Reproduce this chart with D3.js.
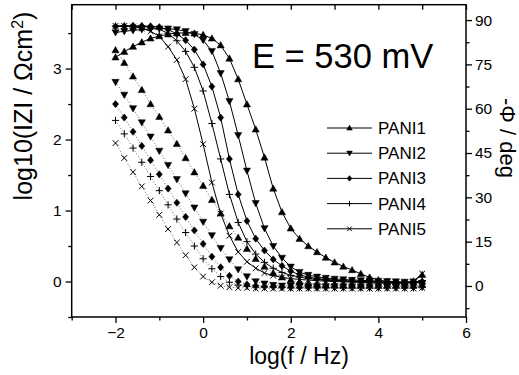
<!DOCTYPE html>
<html>
<head>
<meta charset="utf-8">
<script src="https://cdn.jsdelivr.net/npm/d3@7"></script>
<style>
  body { margin: 0; background: #fff; }
  svg { display: block; font-family: Arial, "Liberation Sans", sans-serif; }
  .axis path, .axis line { stroke: #000; stroke-width: 1.3; }
  .axis text { font-size: 15.5px; fill: #000; }
</style>
</head>
<body>
<div id="chart"></div>
<script>
// log(f / Hz) grid of the measurement
var logF = [-2, -1.8, -1.6, -1.4, -1.2, -1, -0.8, -0.6, -0.4, -0.2, 0, 0.2, 0.4, 0.6, 0.8, 1, 1.2, 1.4, 1.6, 1.8,
            2, 2.2, 2.4, 2.6, 2.8, 3, 3.2, 3.4, 3.6, 3.8, 4, 4.2, 4.4, 4.6, 4.8, 5];

var seriesNames = ["PANI1", "PANI2", "PANI3", "PANI4", "PANI5"];
var symbols = ["triUp", "triDown", "diamond", "plus", "cross"];

// -phase / deg (solid, right axis)
var phase1 = [77.4, 79.3, 81.0, 82.5, 83.8, 84.6, 85.2, 85.6, 85.7, 85.5, 85.0, 83.8, 81.5, 77.0, 70.0, 61.5, 53.0, 43.5, 33.0, 25.0,
              19.5, 16.0, 13.5, 11.5, 9.6, 8.0, 6.6, 5.4, 4.1, 2.9, 2.0, 1.5, 1.2, 1.1, 1.6, 3.8];
var phase2 = [85.8, 86.2, 86.5, 86.8, 87.0, 87.1, 87.1, 86.8, 86.2, 85.2, 83.2, 79.5, 72.0, 62.5, 51.0, 39.0, 28.0, 19.5, 13.5, 9.5,
              6.5, 4.7, 3.7, 3.1, 2.7, 2.4, 2.2, 2.0, 1.9, 1.8, 1.7, 1.6, 1.5, 1.4, 1.4, 1.0];
var phase3 = [87.8, 87.9, 88.0, 88.0, 87.9, 87.6, 86.8, 85.3, 83.2, 80.0, 75.0, 67.5, 57.0, 43.0, 31.0, 22.0, 16.0, 12.0, 9.0, 6.8,
              5.0, 3.8, 3.0, 2.5, 2.2, 2.0, 1.8, 1.6, 1.5, 1.4, 1.3, 1.2, 1.1, 1.0, 1.2, 1.5];
var phase4 = [88.0, 88.0, 88.0, 87.9, 87.6, 86.9, 85.5, 83.0, 79.4, 74.0, 66.0, 55.0, 43.0, 31.0, 21.5, 15.0, 10.8, 8.0, 6.0, 4.6,
              3.6, 3.0, 2.5, 2.2, 2.0, 1.8, 1.7, 1.6, 1.5, 1.4, 1.3, 1.2, 1.1, 1.0, 1.3, 1.8];
var phase5 = [88.0, 88.0, 87.8, 87.2, 86.2, 84.5, 81.0, 76.5, 70.0, 60.0, 48.0, 35.0, 24.5, 17.0, 11.5, 8.2, 6.0, 4.4, 3.5, 2.9,
              2.5, 2.2, 2.0, 1.8, 1.6, 1.5, 1.4, 1.3, 1.2, 1.1, 1.0, 1.0, 0.9, 0.9, 1.6, 4.2];

// log10|Z| (dotted, left axis)
var logZ1 = [3.26, 3.08, 2.89, 2.70, 2.50, 2.32, 2.13, 1.94, 1.74, 1.54, 1.35, 1.15, 0.96, 0.78, 0.62, 0.46, 0.32, 0.21, 0.12, 0.06,
             0.02, -0.01, -0.03, -0.04, -0.05, -0.05, -0.06, -0.06, -0.06, -0.06, -0.06, -0.06, -0.06, -0.06, -0.06, -0.05];
var logZ2 = [2.81, 2.63, 2.44, 2.24, 2.04, 1.84, 1.64, 1.44, 1.24, 1.04, 0.84, 0.65, 0.47, 0.31, 0.17, 0.07, 0.00, -0.03, -0.05, -0.06,
             -0.06, -0.06, -0.07, -0.07, -0.07, -0.07, -0.07, -0.07, -0.07, -0.07, -0.07, -0.07, -0.07, -0.07, -0.07, -0.06];
var logZ3 = [2.50, 2.31, 2.11, 1.91, 1.71, 1.51, 1.31, 1.11, 0.91, 0.72, 0.53, 0.35, 0.20, 0.08, 0.00, -0.04, -0.06, -0.07, -0.07, -0.08,
             -0.08, -0.08, -0.08, -0.08, -0.08, -0.08, -0.08, -0.08, -0.08, -0.08, -0.08, -0.08, -0.08, -0.08, -0.08, -0.07];
var logZ4 = [2.27, 2.08, 1.88, 1.68, 1.48, 1.28, 1.08, 0.88, 0.69, 0.50, 0.32, 0.18, 0.07, -0.01, -0.05, -0.07, -0.08, -0.08, -0.08, -0.08,
             -0.09, -0.09, -0.09, -0.09, -0.09, -0.09, -0.09, -0.09, -0.09, -0.09, -0.09, -0.09, -0.09, -0.09, -0.09, -0.08];
var logZ5 = [1.95, 1.74, 1.54, 1.34, 1.14, 0.94, 0.74, 0.55, 0.37, 0.20, 0.07, -0.01, -0.06, -0.08, -0.09, -0.09, -0.10, -0.10, -0.10, -0.10,
             -0.10, -0.10, -0.10, -0.10, -0.10, -0.10, -0.10, -0.10, -0.10, -0.10, -0.10, -0.10, -0.10, -0.10, -0.10, -0.09];

var xMajor = [-2, 0, 2, 4, 6];
var xMinor = [-3, -1, 1, 3, 5];
var xTop = [-3, -2, -1, 0, 1, 2, 3, 4, 5, 6];
var yLeftMajor = [0, 1, 2, 3];
var yLeftMinor = [-0.5, 0.5, 1.5, 2.5, 3.5];
var yRightMajor = [0, 15, 30, 45, 60, 75, 90];
var yRightMinor = [-7.5, 7.5, 22.5, 37.5, 52.5, 67.5, 82.5];

var phases = [phase1, phase2, phase3, phase4, phase5];
var logZs = [logZ1, logZ2, logZ3, logZ4, logZ5];

// Standard margin convention (plot frame in page pixels)
var W = 519, H = 375;
var margin = {top: 4.7, right: 53, bottom: 58, left: 71.7};
var width = W - margin.left - margin.right;
var height = H - margin.top - margin.bottom;

var x = d3.scaleLinear().domain([-3, 6]).range([0, width]);
var yL = d3.scaleLinear().domain([-0.5, 3.9]).range([height, 0]);
var yR = d3.scaleLinear().domain([-10.5, 95.2]).range([height, 0]);

// marker shapes, s = half size
function marker(type, s) {
  if (type === "triUp") return "M0," + (-s) + "L" + s + "," + (s * 0.75) + "L" + (-s) + "," + (s * 0.75) + "Z";
  if (type === "triDown") return "M0," + s + "L" + s + "," + (-s * 0.75) + "L" + (-s) + "," + (-s * 0.75) + "Z";
  if (type === "diamond") return "M0," + (-s) + "L" + (s * 0.85) + ",0L0," + s + "L" + (-s * 0.85) + ",0Z";
  if (type === "plus") return "M" + (-s) + ",0H" + s + "M0," + (-s) + "V" + s;
  var c = s * 0.8;
  return "M" + (-c) + "," + (-c) + "L" + c + "," + c + "M" + (-c) + "," + c + "L" + c + "," + (-c);
}
function filled(type) { return type !== "plus" && type !== "cross"; }

var svg = d3.select("#chart").append("svg")
  .attr("width", W)
  .attr("height", H)
  .append("g")
  .attr("transform", "translate(" + margin.left + "," + margin.top + ")");

// Axes
svg.append("g").attr("class", "axis")
  .attr("transform", "translate(0," + height + ")")
  .call(d3.axisBottom(x).tickValues(xMajor).tickSize(6).tickPadding(4).tickFormat(d3.format("d")));
svg.append("g").attr("class", "axis minor")
  .attr("transform", "translate(0," + height + ")")
  .call(d3.axisBottom(x).tickValues(xMinor).tickSize(3.5).tickFormat(""));
svg.append("g").attr("class", "axis minor")
  .call(d3.axisTop(x).tickValues(xTop).tickSize(-5).tickFormat(""));
svg.append("g").attr("class", "axis")
  .call(d3.axisLeft(yL).tickValues(yLeftMajor).tickSize(6).tickPadding(4).tickFormat(d3.format("d")));
svg.append("g").attr("class", "axis minor")
  .call(d3.axisLeft(yL).tickValues(yLeftMinor).tickSize(3.5).tickFormat(""));
svg.append("g").attr("class", "axis")
  .attr("transform", "translate(" + width + ",0)")
  .call(d3.axisRight(yR).tickValues(yRightMajor).tickSize(6).tickPadding(3).tickFormat(d3.format("d")));
svg.append("g").attr("class", "axis minor")
  .attr("transform", "translate(" + width + ",0)")
  .call(d3.axisRight(yR).tickValues(yRightMinor).tickSize(3.5).tickFormat(""));
svg.selectAll(".axis .domain").remove();

svg.append("rect")
  .attr("width", width).attr("height", height)
  .attr("fill", "none").attr("stroke", "#000").attr("stroke-width", 1.5);

// log|Z| curves, dotted
logZs.forEach(function(vals, i) {
  var pts = logF.map(function(f, j) { return [f, vals[j]]; });
  svg.append("path")
    .datum(pts)
    .attr("fill", "none")
    .attr("stroke", "#666")
    .attr("stroke-width", 1)
    .attr("stroke-dasharray", "1,2")
    .attr("d", d3.line().x(function(d) { return x(d[0]); }).y(function(d) { return yL(d[1]); }));
  svg.append("g").selectAll("path")
    .data(pts).enter().append("path")
    .attr("transform", function(d) { return "translate(" + x(d[0]) + "," + yL(d[1]) + ")"; })
    .attr("d", marker(symbols[i], 3.6))
    .attr("fill", filled(symbols[i]) ? "#000" : "none")
    .attr("stroke", "#000")
    .attr("stroke-width", filled(symbols[i]) ? 0.5 : 1);
});

// phase curves, solid
phases.forEach(function(vals, i) {
  var pts = logF.map(function(f, j) { return [f, vals[j]]; });
  svg.append("path")
    .datum(pts)
    .attr("fill", "none")
    .attr("stroke", "#000")
    .attr("stroke-width", 1)
    .attr("d", d3.line().x(function(d) { return x(d[0]); }).y(function(d) { return yR(d[1]); }));
  svg.append("g").selectAll("path")
    .data(pts).enter().append("path")
    .attr("transform", function(d) { return "translate(" + x(d[0]) + "," + yR(d[1]) + ")"; })
    .attr("d", marker(symbols[i], 3.6))
    .attr("fill", filled(symbols[i]) ? "#000" : "none")
    .attr("stroke", "#000")
    .attr("stroke-width", filled(symbols[i]) ? 0.5 : 1);
});

// Legend
var legend = svg.append("g").attr("transform", "translate(" + (327 - margin.left) + "," + (128 - margin.top) + ")");
seriesNames.forEach(function(name, i) {
  var row = legend.append("g").attr("transform", "translate(0," + (i * 25.2) + ")");
  row.append("line").attr("x1", 0).attr("x2", 45).attr("stroke", "#000").attr("stroke-width", 1);
  row.append("path")
    .attr("transform", "translate(22.5,0)")
    .attr("d", marker(symbols[i], 2.8))
    .attr("fill", filled(symbols[i]) ? "#000" : "none")
    .attr("stroke", "#000")
    .attr("stroke-width", filled(symbols[i]) ? 0.5 : 1);
  row.append("text").attr("x", 51).attr("dy", "0.35em")
    .style("font-size", "17px").text(name);
});

// Annotation and axis titles
svg.append("text")
  .attr("x", 252 - margin.left).attr("y", 68 - margin.top)
  .style("font-size", "34.5px")
  .text("E = 530 mV");

svg.append("text")
  .attr("x", 299 - margin.left).attr("y", 364 - margin.top)
  .attr("text-anchor", "middle")
  .style("font-size", "23px")
  .text("log(f / Hz)");

svg.append("text")
  .attr("transform", "translate(" + (32 - margin.left) + "," + (106 - margin.top) + ") rotate(-90)")
  .attr("text-anchor", "middle")
  .style("font-size", "25px")
  .html("log10(IZI / &#937;cm<tspan dy='-9' font-size='16px'>2</tspan><tspan dy='9'>)</tspan>");

svg.append("text")
  .attr("transform", "translate(" + (500 - margin.left) + "," + (138 - margin.top) + ") rotate(90)")
  .attr("text-anchor", "middle")
  .style("font-size", "22px")
  .text("-\u03A6 / deg");
</script>
</body>
</html>
